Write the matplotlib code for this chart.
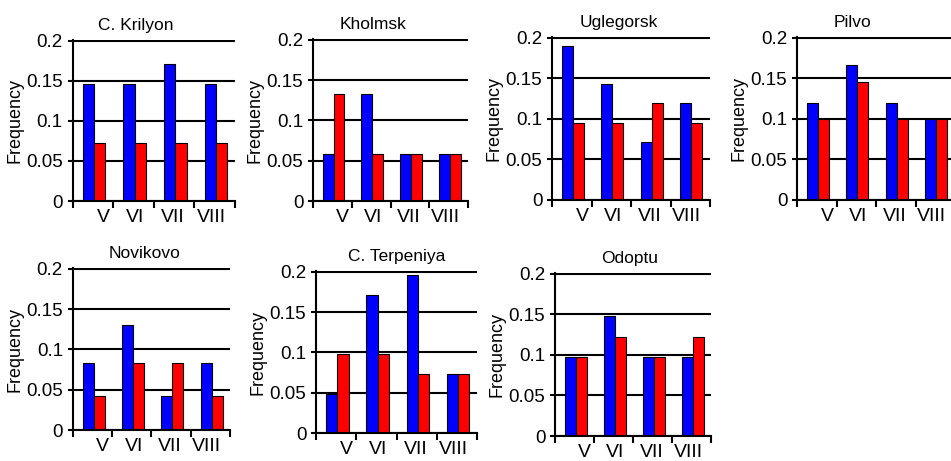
import matplotlib
matplotlib.use("Agg")
import matplotlib.pyplot as plt

plt.rcParams['font.family'] = ['Liberation Sans', 'DejaVu Sans']

# Data
months = ["V", "VI", "VII", "VIII"]
sites = ["C. Krilyon", "Kholmsk", "Uglegorsk", "Pilvo",
         "Novikovo", "C. Terpeniya", "Odoptu"]

blue_krilyon = [0.146, 0.146, 0.171, 0.146]
red_krilyon = [0.073, 0.073, 0.073, 0.073]
blue_kholmsk = [0.058, 0.133, 0.058, 0.058]
red_kholmsk = [0.133, 0.058, 0.058, 0.058]
blue_uglegorsk = [0.19, 0.143, 0.071, 0.119]
red_uglegorsk = [0.095, 0.095, 0.119, 0.095]
blue_pilvo = [0.12, 0.167, 0.12, 0.1]
red_pilvo = [0.1, 0.145, 0.1, 0.1]
blue_novikovo = [0.083, 0.13, 0.042, 0.083]
red_novikovo = [0.042, 0.083, 0.083, 0.042]
blue_terpeniya = [0.049, 0.171, 0.196, 0.073]
red_terpeniya = [0.098, 0.098, 0.073, 0.073]
blue_odoptu = [0.098, 0.148, 0.098, 0.098]
red_odoptu = [0.098, 0.122, 0.098, 0.122]

blue_vals = [blue_krilyon, blue_kholmsk, blue_uglegorsk, blue_pilvo,
             blue_novikovo, blue_terpeniya, blue_odoptu]
red_vals = [red_krilyon, red_kholmsk, red_uglegorsk, red_pilvo,
            red_novikovo, red_terpeniya, red_odoptu]

# axes boxes in pixels: left, top, right, bottom
boxes = [(72.5, 40, 235, 201), (313, 39, 468, 201), (552, 37, 710, 200),
         (797, 37, 955, 200), (72.7, 268, 230, 430), (316, 271, 477, 433),
         (555, 273, 711, 436)]
title_x = [0.39, 0.39, 0.42, 0.35, 0.46, 0.5, 0.48]
label_pos = [0.76, 1.55, 2.47, 3.41]

W, H = 951, 461
fig = plt.figure(figsize=(W / 100, H / 100), dpi=100)

for k in range(len(sites)):
    l, t, r, b = boxes[k]
    ax = fig.add_axes([l / W, (H - b) / H, (r - l) / W, (b - t) / H])
    x = range(4)
    ax.bar([i + 0.39 for i in x], blue_vals[k], width=0.28, color="#0000ff",
           edgecolor="black", linewidth=0.8, zorder=3)
    ax.bar([i + 0.67 for i in x], red_vals[k], width=0.28, color="#ff0000",
           edgecolor="black", linewidth=0.8, zorder=3)
    ax.set_xlim(0, 4)
    ax.set_ylim(0, 0.201)
    ax.set_yticks([0, 0.05, 0.1, 0.15, 0.2])
    ax.set_yticklabels(["0", "0.05", "0.1", "0.15", "0.2"])
    ax.set_xticks(label_pos)
    ax.set_xticklabels(months)
    ax.set_xticks([0, 1, 2, 3, 4], minor=True)
    ax.tick_params(axis="x", which="major", length=0, pad=6, labelsize=14)
    ax.tick_params(axis="x", which="minor", length=5, width=1.5, direction="out")
    ax.tick_params(axis="y", length=3.5, width=1.5, pad=3.5, labelsize=13.5)
    ax.yaxis.grid(True, color="black", linewidth=1.5, zorder=0)
    ax.set_axisbelow(True)
    for s in ["top", "right"]:
        ax.spines[s].set_visible(False)
    for s in ["left", "bottom"]:
        ax.spines[s].set_linewidth(1.5)
        ax.spines[s].set_zorder(4)
    ax.set_ylabel("Frequency", fontsize=13, labelpad=2)
    ax.set_title(sites[k], fontsize=12.5, x=title_x[k], pad=7)

plt.savefig("out.png", dpi=100)
